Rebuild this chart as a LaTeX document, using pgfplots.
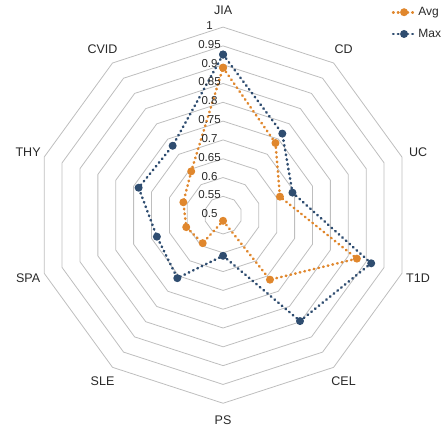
\documentclass[border=0pt]{standalone}
\usepackage{fontspec}
\setmainfont{Liberation Sans}
\usepackage{pgfplots}
\usepackage{pgfplotstable}
\pgfplotsset{compat=1.18}

\definecolor{avgc}{RGB}{224,135,45}
\definecolor{maxc}{RGB}{47,77,112}
\definecolor{gridc}{RGB}{190,190,190}
\definecolor{txt}{RGB}{40,40,40}

% one spoke per disease, clockwise from the top; the first row is repeated to close the outline
\pgfplotstableread{
cat  angle avg   max
JIA   90   0.892 0.927
CD    54   0.737 0.768
UC    18   0.659 0.694
T1D  -18   0.874 0.914
CEL  -54   0.712 0.848
PS   -90   0.515 0.608
SLE  -126  0.592 0.707
SPA  -162  0.603 0.685
THY  -198  0.611 0.736
CVID -234  0.644 0.728
JIA  -270  0.892 0.927
}\scores

\tikzset{
  ticklab/.style={font=\fontsize{11.5}{13}\selectfont, text=txt},
  dotline/.style={line width=2.6pt, dash pattern=on 0.6pt off 4.2pt, line cap=round},
}

\begin{document}
\begin{tikzpicture}
\begin{axis}[
  x=376pt, y=376pt,
  xmin=-0.593, xmax=0.590, ymin=-0.548, ymax=0.572,
  hide axis, clip=false,
  legend cell align=left,
  legend style={draw=none, fill=none, at={(axis cs:0.588,0.561)}, anchor=north east,
    font=\fontsize{12}{14}\selectfont, text=txt, row sep=8pt, inner sep=1pt},
  legend image code/.code={
    \draw[mark repeat=2, mark phase=2, #1] plot coordinates {(0pt,0pt) (11pt,0pt) (22pt,0pt)};
  },
]
\path (axis cs:-0.593,-0.548) rectangle (axis cs:0.590,0.572);

% decagon rings, radius measured from 0.5
\pgfplotsinvokeforeach{0.05,0.10,0.15,0.20,0.25,0.30,0.35,0.40,0.45,0.50}{
  \addplot[gridc, line width=0.8pt, forget plot, data cs=polar, line join=miter]
    table[x=angle, y expr=#1] {\scores};
}

\addplot[avgc, dotline, mark=*, mark size=2.6pt, mark options={solid, fill=avgc}, data cs=polar]
  table[x=angle, y expr=\thisrow{avg}-0.5] {\scores};
\addlegendentry{Avg}

\addplot[maxc, dotline, mark=*, mark size=2.6pt, mark options={solid, fill=maxc}, data cs=polar]
  table[x=angle, y expr=\thisrow{max}-0.5] {\scores};
\addlegendentry{Max}

% spoke names
\addplot[draw=none, mark=none, forget plot, data cs=polar,
  skip coords between index={10}{11},
  point meta=explicit symbolic,
  nodes near coords, nodes near coords style={anchor=center, text=txt,
    font=\fontsize{12.5}{14}\selectfont}]
  table[x=angle, y expr=0.545, meta=cat] {\scores};

% radial tick labels
\node[ticklab] at (axis cs:-0.036,0.504) {1};
\node[ticklab] at (axis cs:-0.036,0.454) {0.95};
\node[ticklab] at (axis cs:-0.036,0.404) {0.9};
\node[ticklab] at (axis cs:-0.036,0.354) {0.85};
\node[ticklab] at (axis cs:-0.036,0.304) {0.8};
\node[ticklab] at (axis cs:-0.036,0.254) {0.75};
\node[ticklab] at (axis cs:-0.036,0.204) {0.7};
\node[ticklab] at (axis cs:-0.036,0.154) {0.65};
\node[ticklab] at (axis cs:-0.036,0.104) {0.6};
\node[ticklab] at (axis cs:-0.036,0.054) {0.55};
\node[ticklab] at (axis cs:-0.036,0.004) {0.5};
\end{axis}
\end{tikzpicture}
\end{document}
